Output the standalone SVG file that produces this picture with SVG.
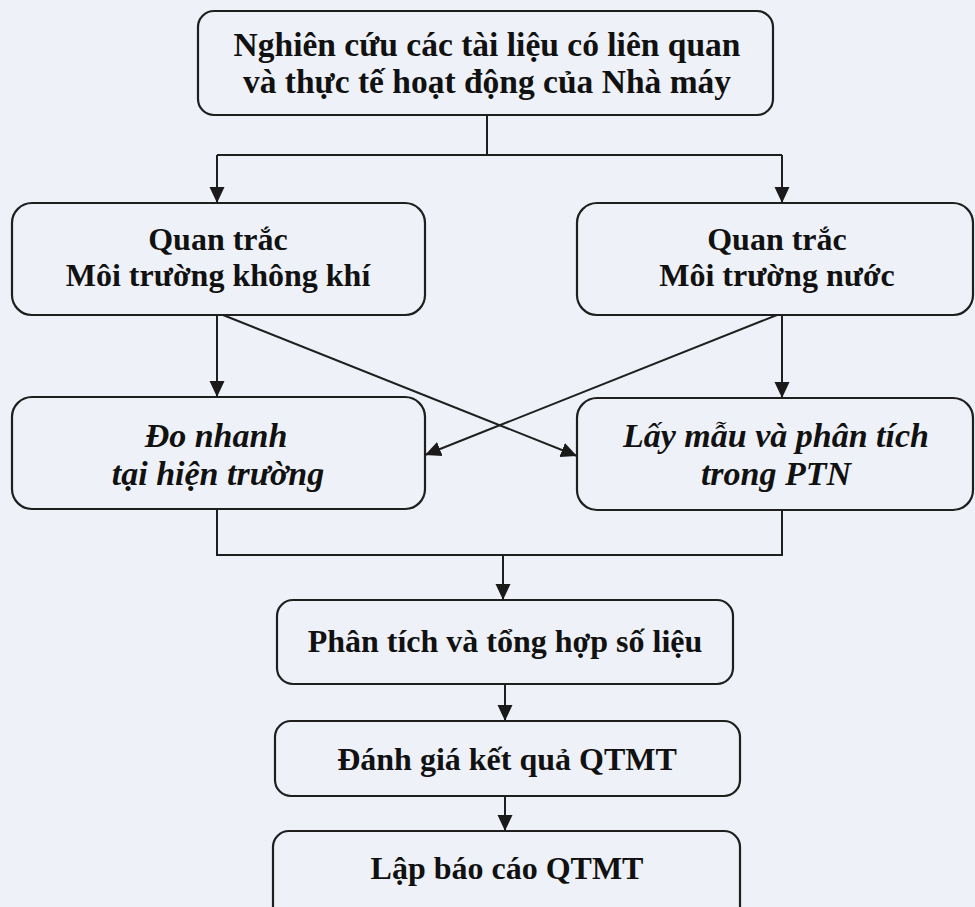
<svg xmlns="http://www.w3.org/2000/svg" width="975" height="907" viewBox="0 0 975 907">
<defs>
<marker id="arr" markerUnits="userSpaceOnUse" markerWidth="18" markerHeight="18" viewBox="0 0 18 18" refX="16" refY="9" orient="auto">
<path d="M0,1.5 L16,9 L0,16.5 Z" fill="#1a1a1a"/>
</marker>
<style>
.box{fill:none;stroke:#1f1f1f;stroke-width:2.2}
.ln{fill:none;stroke:#1f1f1f;stroke-width:2}
.t{font-family:"Liberation Serif","Times New Roman",serif;font-weight:bold;font-size:32px;fill:#111;text-anchor:middle}
.big{font-size:33.5px}
.i{font-style:italic;font-size:34px}
</style>
</defs>
<rect x="0" y="0" width="975" height="907" fill="#eef1f7"/>
<g id="n1">
<rect class="box" x="198" y="11" width="575" height="104" rx="16"/>
<text class="t big" x="487" y="56">Nghiên cứu các tài liệu có liên quan</text>
<text class="t big" x="487" y="93">và thực tế hoạt động của Nhà máy</text>
</g>
<g id="n2">
<rect class="box" x="12" y="203" width="413" height="112" rx="20"/>
<text class="t" x="218" y="250">Quan trắc</text>
<text class="t" x="218" y="286">Môi trường không khí</text>
</g>
<g id="n3">
<rect class="box" x="577" y="203" width="396" height="112" rx="20"/>
<text class="t" x="777" y="250">Quan trắc</text>
<text class="t" x="777" y="286">Môi trường nước</text>
</g>
<g id="n4">
<rect class="box" x="12" y="397" width="413" height="112" rx="20"/>
<text class="t i" x="216" y="447">Đo nhanh</text>
<text class="t i" x="218" y="485">tại hiện trường</text>
</g>
<g id="n5">
<rect class="box" x="577" y="398" width="396" height="112" rx="20"/>
<text class="t i" x="776" y="447">Lấy mẫu và phân tích</text>
<text class="t i" x="776" y="485">trong PTN</text>
</g>
<g id="n6">
<rect class="box" x="277" y="600" width="456" height="84" rx="16"/>
<text class="t" x="505" y="652">Phân tích và tổng hợp số liệu</text>
</g>
<g id="n7">
<rect class="box" x="275" y="721" width="465" height="75" rx="16"/>
<text class="t" x="507" y="770">Đánh giá kết quả QTMT</text>
</g>
<g id="n8">
<rect class="box" x="273" y="831" width="467" height="95" rx="16"/>
<text class="t" x="507" y="879">Lập báo cáo QTMT</text>
</g>
<g id="connectors">
<path class="ln" d="M487,115 V155 M217,155 H782"/>
<path class="ln" d="M217,155 V203" marker-end="url(#arr)"/>
<path class="ln" d="M782,155 V203" marker-end="url(#arr)"/>
<path class="ln" d="M217,315 V397" marker-end="url(#arr)"/>
<path class="ln" d="M782,315 V398" marker-end="url(#arr)"/>
<path class="ln" d="M223,315 L577,456" marker-end="url(#arr)"/>
<path class="ln" d="M777,315 L425,455" marker-end="url(#arr)"/>
<path class="ln" d="M217,509 V555 H782 V510"/>
<path class="ln" d="M503,555 V600" marker-end="url(#arr)"/>
<path class="ln" d="M505,684 V721" marker-end="url(#arr)"/>
<path class="ln" d="M505,796 V831" marker-end="url(#arr)"/>
</g>
</svg>
